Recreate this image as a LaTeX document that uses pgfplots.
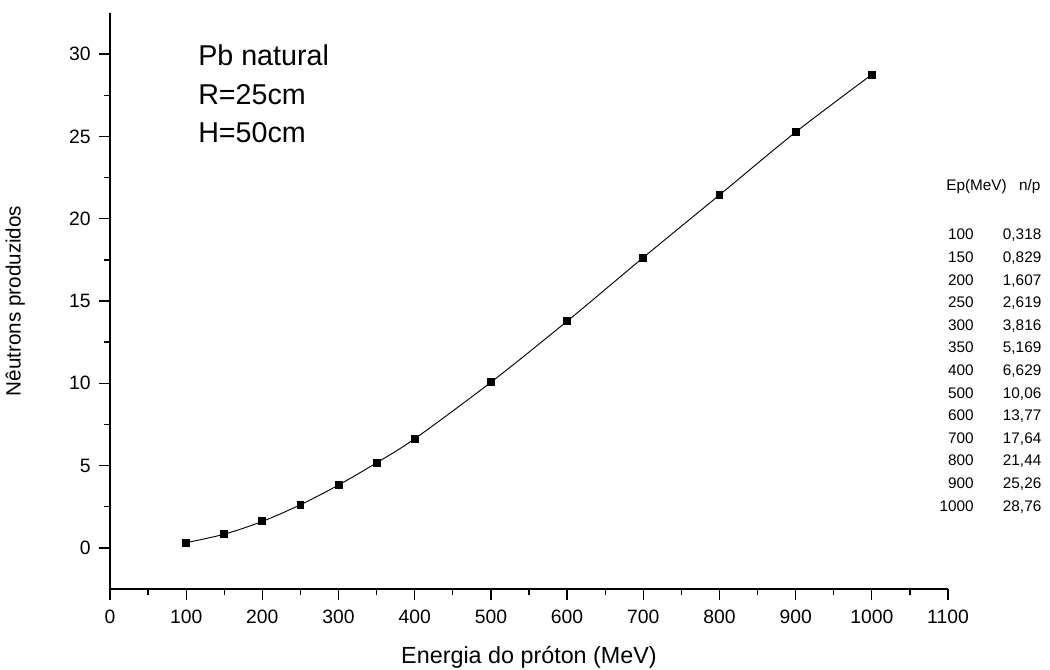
\documentclass[border=0pt]{standalone}
\usepackage{pgfplots}
\pgfplotsset{compat=1.18}
\usepackage{fontspec}
\setmainfont{Liberation Sans}
\begin{document}
\begin{tikzpicture}
\path[use as bounding box] (-82.5pt,-60.75pt) rectangle (705pt,441.75pt);
\begin{axis}[
  at={(0,0)}, anchor=south west,
  scale only axis, width=628.5pt, height=432pt,
  xmin=0, xmax=1100, ymin=-2.5, ymax=32.5,
  axis x line=bottom, axis y line=left,
  axis line style={-, line width=1.2pt},
  xtick={0,100,...,1100}, ytick={0,5,...,30},
  minor x tick num=1, minor y tick num=1,
  tick align=outside,
  major tick length=8pt, minor tick length=4.5pt,
  every tick/.style={black, line width=1pt},
  /pgf/number format/assume math mode=true,
  /pgf/number format/1000 sep={},
  tick label style={font=\fontsize{14.5}{16}\selectfont},
  xticklabel style={yshift=-4pt},
  yticklabel style={xshift=-3pt},
  xlabel={Energia do próton (MeV)},
  ylabel={Nêutrons produzidos},
  every axis x label/.style={at={(axis description cs:0.5,-0.118)}, anchor=center, font=\fontsize{17.5}{20}\selectfont},
  every axis y label/.style={at={(axis description cs:-0.113,0.5)}, anchor=center, rotate=90, font=\fontsize{15.5}{18}\selectfont},
  clip=false,
]
\addplot[black, line width=0.7pt, smooth, mark=square*, mark size=2.6pt, mark options={solid}] coordinates {
(100,0.318) (150,0.829) (200,1.607) (250,2.619) (300,3.816) (350,5.169) (400,6.629)
(500,10.06) (600,13.77) (700,17.64) (800,21.44) (900,25.26) (1000,28.76)
};
\end{axis}
% annotation
\node[anchor=base west, font=\fontsize{21.5}{24}\selectfont, inner sep=0pt] at (66pt,392.25pt) {Pb natural};
\node[anchor=base west, font=\fontsize{21.5}{24}\selectfont, inner sep=0pt] at (66pt,363pt) {R=25cm};
\node[anchor=base west, font=\fontsize{21.5}{24}\selectfont, inner sep=0pt] at (66pt,334.5pt) {H=50cm};
% table
\node[anchor=base west, font=\fontsize{11.5}{13}\selectfont, inner sep=0pt] at (627pt,298.5pt) {Ep(MeV)};
\node[anchor=base east, font=\fontsize{11.5}{13}\selectfont, inner sep=0pt] at (698pt,298.5pt) {n/p};
\foreach \e/\v [count=\i from 0] in {100/{0,318},150/{0,829},200/{1,607},250/{2,619},300/{3,816},350/{5,169},400/{6,629},500/{10,06},600/{13,77},700/{17,64},800/{21,44},900/{25,26},1000/{28,76}}{
  \node[anchor=base east, font=\fontsize{11.5}{13}\selectfont, inner sep=0pt] at (648pt,{261.75pt-\i*16.95pt}) {\e};
  \node[anchor=base west, font=\fontsize{11.5}{13}\selectfont, inner sep=0pt] at (669.5pt,{261.75pt-\i*16.95pt}) {\v};
}
\end{tikzpicture}
\end{document}
